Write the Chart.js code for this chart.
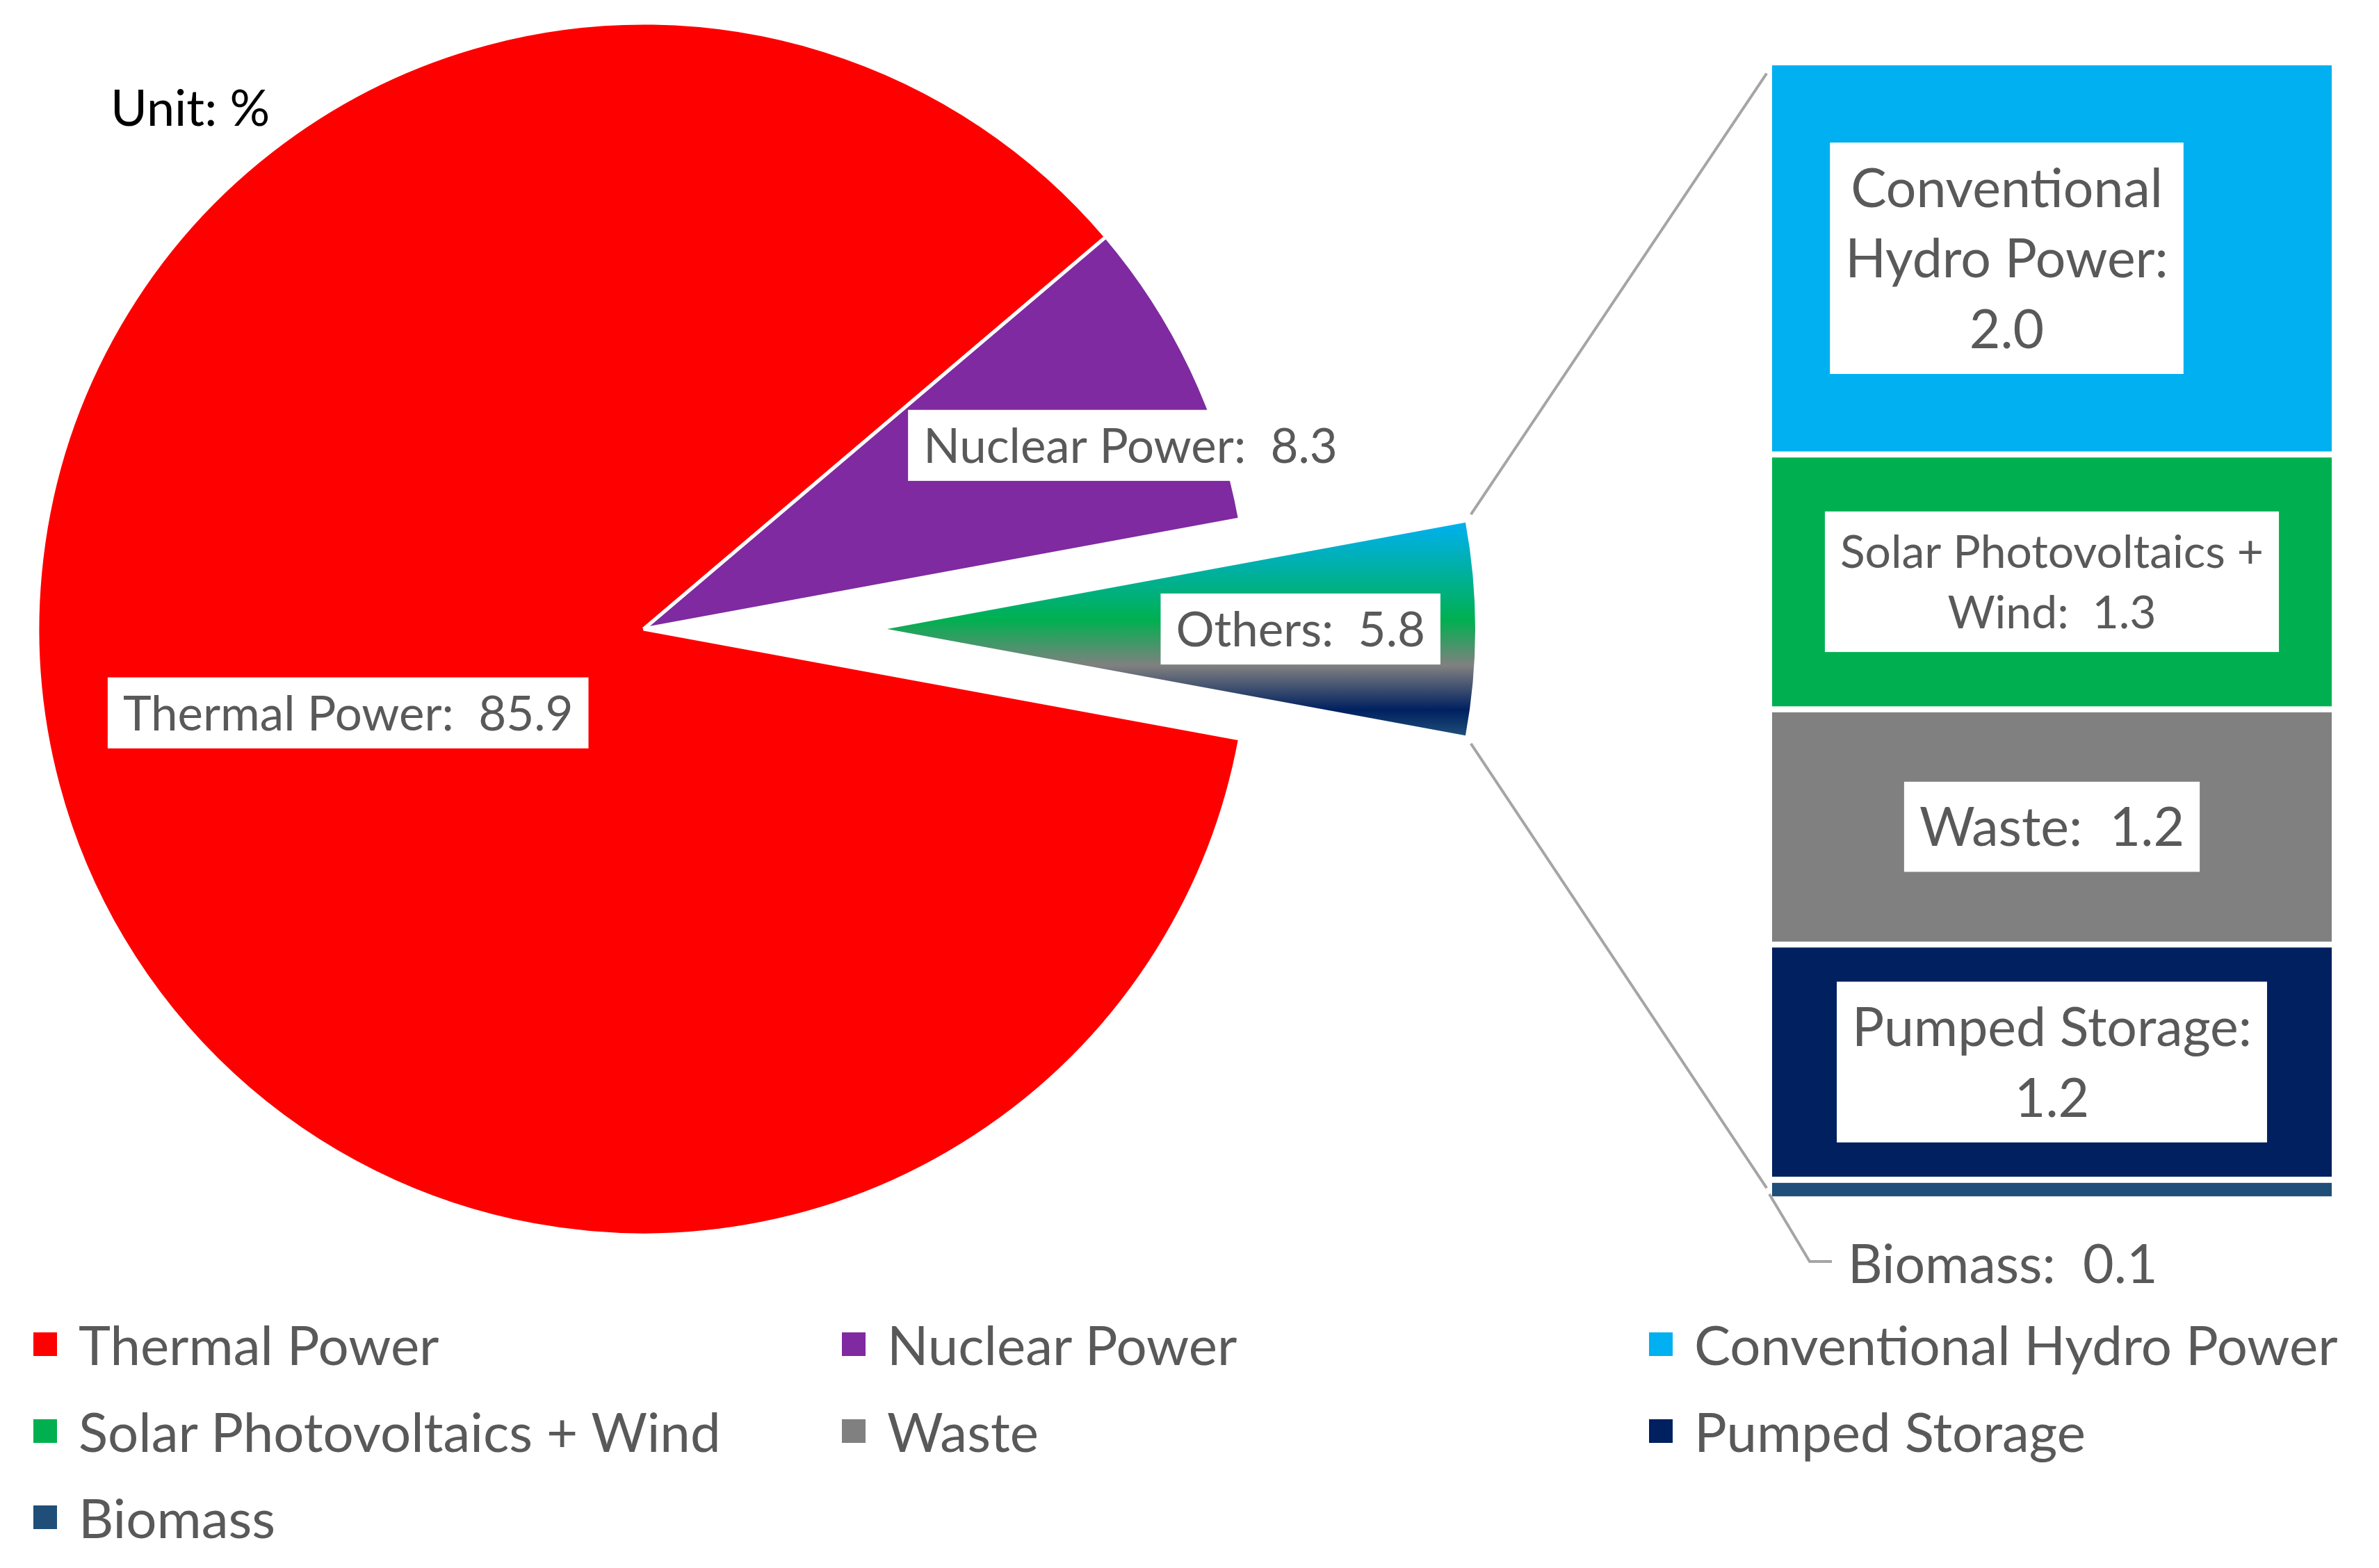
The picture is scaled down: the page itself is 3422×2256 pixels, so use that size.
<!DOCTYPE html>
<html>
<head>
<meta charset="utf-8">
<title>Electricity generation by source</title>
<script src="https://cdn.jsdelivr.net/npm/chart.js@4.4.1/dist/chart.umd.min.js"></script>
<style>
  html, body { margin: 0; padding: 0; background: #fff; }
  #stage { position: relative; width: 3422px; height: 2256px; overflow: hidden; font-family: Lato, "Open Sans", sans-serif; }
  #stage canvas { position: absolute; left: 0; top: 0; }
  #legend {
    position: absolute; left: 48px; top: 1872px;
    display: grid; grid-template-columns: 1163px 1161px auto; grid-auto-rows: 124.5px;
    align-items: center; color: #595959; font-size: 78px;
  }
  .legend-item { display: flex; align-items: center; white-space: nowrap; }
  .legend-swatch { width: 34px; height: 34px; margin-right: 31px; flex: none; }
</style>
</head>
<body>
<div id="stage">
  <canvas id="pieCanvas" width="3422" height="2256"></canvas>
  <canvas id="barCanvas" width="3422" height="2256"></canvas>
  <div id="legend"></div>
</div>
<script>
// data
const sourceLabels = ['Thermal Power', 'Nuclear Power', 'Others'];
const sourceShares = [85.9, 8.3, 5.8];
const othersLabels = ['Conventional Hydro Power', 'Solar Photovoltaics + Wind', 'Waste', 'Pumped Storage', 'Biomass'];
const othersShares = [2.0, 1.3, 1.2, 1.2, 0.1];
// label texts as they are wrapped in the picture, {v} = value
const sourceLabelFormats = ['Thermal Power:  {v}', 'Nuclear Power:  {v}', 'Others:  {v}'];
const othersLabelFormats = ['Conventional\nHydro Power:\n{v}', 'Solar Photovoltaics +\nWind:  {v}', 'Waste:  {v}', 'Pumped Storage:\n{v}', 'Biomass:  {v}'];
const unitNote = 'Unit: %';

// styles
const sourceColors = ['#ff0000', '#7f2aa0', '#00b050'];
const othersColors = ['#00b0f0', '#00b050', '#808080', '#002060', '#1f4e79'];
const labelColor = '#595959';
const lineColor = '#a5a5a5';
const fontFamily = 'Lato, "Open Sans", sans-serif';
const othersLabelSizes = [77, 66, 77, 77, 77];
const othersLabelShift = [-65, 0, 0, 0, 0];

// layout
const W = 3422, H = 2256;
const PIE_CX = 926, PIE_CY = 905, PIE_R = 872;
const OTHERS_R = 846, EXPLODE = 350;
const BAR_LEFT = 2549, BAR_RIGHT = 3354, BAR_TOP = 94, BAR_BOTTOM = 1730, GAP = 9;
// where each pie label sits: share of radius along the slice middle, plus a small turn (deg)
const pieLabelPlace = [{ r: 0.507, turn: -0.9 }, { r: 0.858, turn: 4.7 }, { r: 0.682, turn: 0 }];

const othersIdx = sourceLabels.indexOf('Others');
const sourceTotal = sourceShares.reduce((a, b) => a + b, 0);
const othersTotal = othersShares.reduce((a, b) => a + b, 0);
const othersSweep = sourceShares[othersIdx] / sourceTotal * 2 * Math.PI;

function fillFormat(fmt, v) { return fmt.replace('{v}', v.toFixed(1)); }

function drawLabelBox(ctx, text, cx, cy, size, lineFactor, padY) {
  const lines = text.split('\n');
  const lineH = size * lineFactor;
  ctx.save();
  ctx.font = size + 'px ' + fontFamily;
  const w = Math.max(...lines.map(l => ctx.measureText(l).width));
  const boxW = w + 2 * 22, boxH = lines.length * lineH + 2 * padY;
  ctx.fillStyle = '#fff';
  ctx.fillRect(cx - boxW / 2, cy - boxH / 2, boxW, boxH);
  ctx.fillStyle = labelColor;
  ctx.textAlign = 'center';
  ctx.textBaseline = 'middle';
  lines.forEach((l, i) => ctx.fillText(l, cx, cy - (lines.length - 1) * lineH / 2 + i * lineH + size * 0.04));
  ctx.restore();
}

// gradient of the Others slice, built from the breakdown colours
function othersGradient(chart) {
  const a = chart.chartArea;
  if (!a) return othersColors[0];
  const cy = (a.top + a.bottom) / 2;
  const half = OTHERS_R * Math.sin(othersSweep / 2);
  const g = chart.ctx.createLinearGradient(0, cy - half, 0, cy + half);
  let acc = 0;
  othersShares.forEach((v, i) => {
    let stop = (acc + v / 2) / othersTotal;
    if (i === 0) stop = 0;
    if (i === othersShares.length - 1) stop = 1;
    acc += v;
    g.addColorStop(stop, othersColors[i]);
  });
  return g;
}

// pull the Others slice out along its middle angle (chart.js "offset" also shrinks the sweep)
const explodedSlicePlugin = {
  id: 'explodedSlice',
  afterDatasetUpdate(chart, args) {
    const arc = chart.getDatasetMeta(args.index).data[othersIdx];
    if (!arc) return;
    const a = chart.chartArea;
    const mid = (arc.startAngle + arc.endAngle) / 2;
    arc.x = (a.left + a.right) / 2 + Math.cos(mid) * EXPLODE;
    arc.y = (a.top + a.bottom) / 2 + Math.sin(mid) * EXPLODE;
    arc.outerRadius = OTHERS_R;
  }
};

const pieLabelPlugin = {
  id: 'pieLabels',
  afterDatasetsDraw(chart) {
    const ctx = chart.ctx;
    chart.getDatasetMeta(0).data.forEach((arc, i) => {
      const a = (arc.startAngle + arc.endAngle) / 2 + pieLabelPlace[i].turn * Math.PI / 180;
      const d = pieLabelPlace[i].r * PIE_R;
      drawLabelBox(ctx, fillFormat(sourceLabelFormats[i], sourceShares[i]), arc.x + Math.cos(a) * d, arc.y + Math.sin(a) * d, 69, 1.22, 9);
    });
    ctx.save();
    ctx.font = '72px ' + fontFamily;
    ctx.fillStyle = '#000';
    ctx.textBaseline = 'alphabetic';
    ctx.fillText(unitNote, 159, 181);
    ctx.restore();
  }
};

function buildCharts() {
  const pieChart = new Chart(document.getElementById('pieCanvas'), {
    type: 'pie',
    data: {
      labels: sourceLabels,
      datasets: [{
        data: sourceShares,
        backgroundColor: c => c.dataIndex === othersIdx ? othersGradient(c.chart) : sourceColors[c.dataIndex],
        borderColor: '#fff',
        borderWidth: sourceLabels.map((l, i) => i === othersIdx ? 0 : 5),
        radius: PIE_R,
        rotation: 90 + othersSweep * 90 / Math.PI
      }]
    },
    options: {
      responsive: false,
      animation: false,
      events: [],
      layout: { padding: { left: PIE_CX - PIE_R, right: W - PIE_CX - PIE_R, top: PIE_CY - PIE_R, bottom: H - PIE_CY - PIE_R } },
      plugins: { legend: { display: false }, tooltip: { enabled: false } }
    },
    plugins: [explodedSlicePlugin, pieLabelPlugin]
  });

  // lines from the pulled-out slice to the stacked bar
  const connectorPlugin = {
    id: 'connectors',
    afterDatasetsDraw(chart) {
      const arc = pieChart.getDatasetMeta(0).data[othersIdx];
      const metas = chart.getSortedVisibleDatasetMetas();
      const topEl = metas[metas.length - 1].data[0], botEl = metas[0].data[0];
      const left = topEl.x - topEl.width / 2;
      const ctx = chart.ctx;
      const seg = (x1, y1, x2, y2, trim) => {
        const len = Math.hypot(x2 - x1, y2 - y1), ux = (x2 - x1) / len, uy = (y2 - y1) / len;
        return [x1 + ux * trim, y1 + uy * trim, x2 - ux * trim, y2 - uy * trim];
      };
      ctx.save();
      ctx.strokeStyle = lineColor;
      ctx.lineWidth = 4;
      const a = seg(arc.x + OTHERS_R * Math.cos(arc.startAngle), arc.y + OTHERS_R * Math.sin(arc.startAngle), left, topEl.y, 14);
      const b = seg(arc.x + OTHERS_R * Math.cos(arc.endAngle), arc.y + OTHERS_R * Math.sin(arc.endAngle), left, botEl.base - GAP, 14);
      [a, b].forEach(s => { ctx.beginPath(); ctx.moveTo(s[0], s[1]); ctx.lineTo(s[2], s[3]); ctx.stroke(); });
      ctx.restore();
    }
  };

  const barLabelPlugin = {
    id: 'barLabels',
    afterDatasetsDraw(chart) {
      const ctx = chart.ctx;
      chart.data.datasets.forEach((ds, di) => {
        const i = othersLabels.indexOf(ds.label);
        const el = chart.getDatasetMeta(di).data[0];
        const text = fillFormat(othersLabelFormats[i], othersShares[i]);
        const size = othersLabelSizes[i];
        const segH = el.base - el.y - GAP;
        if (segH > size * 1.5) {
          drawLabelBox(ctx, text, el.x + othersLabelShift[i], (el.y + el.base - GAP) / 2, size, 1.32, 14);
        } else {
          // too thin: label below the bar with a leader line
          const left = el.x - el.width / 2, bottom = el.base;
          ctx.save();
          ctx.strokeStyle = lineColor;
          ctx.lineWidth = 4;
          ctx.beginPath();
          ctx.moveTo(left - 4, bottom - 12);
          ctx.lineTo(left + 54, bottom + 85);
          ctx.lineTo(left + 86, bottom + 85);
          ctx.stroke();
          ctx.font = size + 'px ' + fontFamily;
          ctx.fillStyle = labelColor;
          ctx.textBaseline = 'middle';
          ctx.fillText(text, left + 109, bottom + 91);
          ctx.restore();
        }
      });
    }
  };

  new Chart(document.getElementById('barCanvas'), {
    type: 'bar',
    data: {
      labels: ['Others'],
      datasets: othersLabels.map((name, i) => ({
        label: name,
        data: [othersShares[i]],
        backgroundColor: othersColors[i],
        borderColor: '#fff',
        borderWidth: { top: 0, right: 0, bottom: GAP, left: 0 },
        borderSkipped: false,
        barPercentage: 1,
        categoryPercentage: 1
      })).reverse()
    },
    options: {
      responsive: false,
      animation: false,
      events: [],
      layout: { padding: { left: BAR_LEFT, right: W - BAR_RIGHT, top: BAR_TOP, bottom: H - BAR_BOTTOM } },
      scales: {
        x: { stacked: true, display: false },
        y: { stacked: true, display: false, min: 0, max: othersTotal }
      },
      plugins: { legend: { display: false }, tooltip: { enabled: false } }
    },
    plugins: [connectorPlugin, barLabelPlugin]
  });

  // legend
  const legendNames = sourceLabels.filter((l, i) => i !== othersIdx).concat(othersLabels);
  const legendColors = sourceColors.filter((c, i) => i !== othersIdx).concat(othersColors);
  document.getElementById('legend').innerHTML = legendNames.map((n, i) =>
    `<div class="legend-item"><span class="legend-swatch" style="background:${legendColors[i]}"></span><span>${n}</span></div>`
  ).join('');
}

if (document.fonts && document.fonts.load) {
  document.fonts.load('72px Lato').then(buildCharts, buildCharts);
} else {
  buildCharts();
}
</script>
</body>
</html>
